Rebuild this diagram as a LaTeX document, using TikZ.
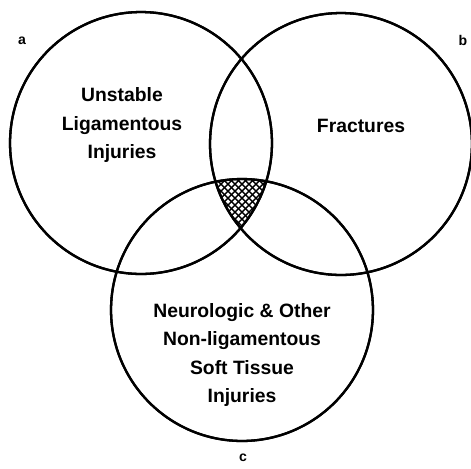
\documentclass[tikz,border=0pt]{standalone}
\usepackage{fontspec}
\setmainfont{Liberation Sans}
\usepackage{tikz}
\usetikzlibrary{positioning}

\begin{document}
\begin{tikzpicture}[
  x=0.02cm, y=-0.02cm,
  setcirc/.style={draw, circle, line width=1.3pt, minimum size=5.24cm, inner sep=0pt},
  setlbl/.style={align=center, font=\fontsize{11}{16}\selectfont\bfseries},
  corner/.style={font=\fontsize{8}{9}\selectfont\bfseries, inner sep=1pt},
  hatch/.style={line width=0.8pt}
]
  \useasboundingbox (0,0) rectangle (471,468);

  % Sets
  \node[setcirc] (seta) at (141,143) {};
  \node[setcirc] (setb) at (341,144) {};
  \node[setcirc] (setc) at (242,310) {};

  % Common part of all three sets
  \begin{scope}
    \clip (seta.center) circle (2.62cm);
    \clip (setb.center) circle (2.62cm);
    \clip (setc.center) circle (2.62cm);
    \foreach \d in {-84,-77,...,84} {
      \draw[hatch] (242+\d-60,205-60) -- (242+\d+60,205+60);
      \draw[hatch] (242+\d+60,205-60) -- (242+\d-60,205+60);
    }
  \end{scope}

  % Redraw rims over the hatch
  \node[setcirc] at (seta.center) {};
  \node[setcirc] at (setb.center) {};
  \node[setcirc] at (setc.center) {};

  % Texts
  \node[setlbl] (tunst) at (122,125) {Unstable\\Ligamentous\\Injuries};
  \node[setlbl] (tfrac) at (361,126) {Fractures};
  \node[setlbl] (tneur) at (242,355) {Neurologic \& Other\\Non-ligamentous\\Soft Tissue\\Injuries};

  % Corner letters
  \node[corner] (la) at (22,41) {a};
  \node[corner] (lb) at (463,40) {b};
  \node[corner] (lc) at (243,458) {c};
\end{tikzpicture}
\end{document}
